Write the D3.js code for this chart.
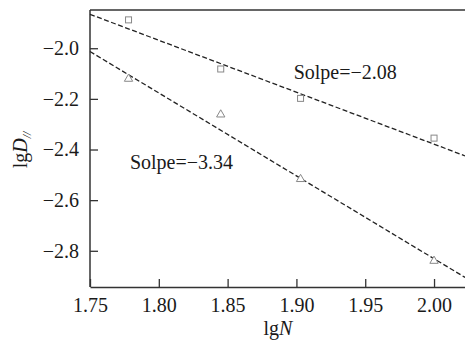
<!DOCTYPE html>
<html>
<head>
<meta charset="utf-8">
<script src="https://cdn.jsdelivr.net/npm/d3@7"></script>
<style>
  html, body { margin: 0; padding: 0; background: #fff; }
  svg { display: block; }
</style>
</head>
<body>
<svg id="chart" width="465" height="341"></svg>
<script>
// lgN values of the measured points
const lgN = [1.778, 1.845, 1.903, 2.000];
// lgD// for the two data sets
const squareSeries   = [-1.888, -2.082, -2.198, -2.355];
const triangleSeries = [-2.121, -2.262, -2.517, -2.840];
// dashed fit lines, read at the left and right edge of the plot
const fitUpper = [[1.75, -1.866], [2.0225, -2.425]];
const fitLower = [[1.75, -2.013], [2.0225, -2.905]];
const xTicks = [1.75, 1.80, 1.85, 1.90, 1.95, 2.00];
const yTicks = [-2.0, -2.2, -2.4, -2.6, -2.8];
const notes = [
  { text: 'Solpe=\u22122.08', x: 1.898, y: -2.12 },
  { text: 'Solpe=\u22123.34', x: 1.779, y: -2.475 }
];

const FONT = '"Liberation Serif", "Times New Roman", serif';
const svg = d3.select('#chart');
const M = { left: 90, top: 10, right: 0, bottom: 54 };
const W = 465, H = 341;

const x = d3.scaleLinear().domain([1.75, 2.0225]).range([M.left, W - M.right]);
const y = d3.scaleLinear().domain([-1.849, -2.943]).range([M.top, H - M.bottom]);

const minus = s => s.replace('-', '\u2212');

// top frame line
svg.append('line')
  .attr('x1', M.left).attr('x2', W)
  .attr('y1', M.top).attr('y2', M.top)
  .attr('stroke', '#333').attr('stroke-width', 1.5);

const xAxis = svg.append('g')
  .attr('transform', 'translate(0,' + (H - M.bottom) + ')')
  .call(d3.axisBottom(x).tickValues(xTicks).tickFormat(d3.format('.2f'))
    .tickSizeInner(-8).tickSizeOuter(0).tickPadding(11));

const yAxis = svg.append('g')
  .attr('transform', 'translate(' + M.left + ',0)')
  .call(d3.axisLeft(y).tickValues(yTicks).tickFormat(d => minus(d3.format('.1f')(d)))
    .tickSizeInner(-8).tickSizeOuter(0).tickPadding(11));

[xAxis, yAxis].forEach(function (g) {
  g.attr('font-family', null).attr('font-size', null);
  g.select('.domain').attr('stroke', '#333').attr('stroke-width', 1.5);
  g.selectAll('.tick line').attr('stroke', '#333').attr('stroke-width', 1.3);
  g.selectAll('.tick text').attr('fill', '#1a1a1a')
    .style('font-family', FONT).style('font-size', '20px');
});
yAxis.select('.domain').attr('d', 'M0,' + M.top + 'V' + (H - M.bottom));

// fit lines
const line = d3.line().x(d => x(d[0])).y(d => y(d[1]));
[fitUpper, fitLower].forEach(function (f) {
  svg.append('path')
    .datum(f)
    .attr('d', line)
    .attr('fill', 'none')
    .attr('stroke', '#222')
    .attr('stroke-width', 1.3)
    .attr('stroke-dasharray', '5,2.5');
});

// square markers
svg.selectAll('rect.pt')
  .data(lgN.map((n, i) => [n, squareSeries[i]]))
  .enter().append('rect')
  .attr('class', 'pt')
  .attr('x', d => x(d[0]) - 3).attr('y', d => y(d[1]) - 3)
  .attr('width', 6).attr('height', 6)
  .attr('fill', '#fff').attr('stroke', '#888').attr('stroke-width', 1);

// triangle markers
const tri = d3.symbol().type(d3.symbolTriangle).size(30);
svg.selectAll('path.tri')
  .data(lgN.map((n, i) => [n, triangleSeries[i]]))
  .enter().append('path')
  .attr('class', 'tri')
  .attr('d', tri)
  .attr('transform', d => 'translate(' + x(d[0]) + ',' + y(d[1]) + ')')
  .attr('fill', '#fff').attr('stroke', '#888').attr('stroke-width', 1);

// annotations
svg.selectAll('text.note')
  .data(notes)
  .enter().append('text')
  .attr('class', 'note')
  .attr('x', d => x(d.x)).attr('y', d => y(d.y))
  .attr('fill', '#1a1a1a')
  .style('font-family', FONT).style('font-size', '20px')
  .text(d => d.text);

// axis titles
const xt = svg.append('text')
  .attr('x', 278).attr('y', 335)
  .attr('text-anchor', 'middle')
  .attr('fill', '#1a1a1a')
  .style('font-family', FONT).style('font-size', '20px');
xt.append('tspan').text('lg');
xt.append('tspan').style('font-style', 'italic').text('N');

const yt = svg.append('text')
  .attr('transform', 'translate(27,150) rotate(-90)')
  .attr('text-anchor', 'middle')
  .attr('fill', '#1a1a1a')
  .style('font-family', FONT).style('font-size', '20px');
yt.append('tspan').text('lg');
yt.append('tspan').style('font-style', 'italic').text('D');
yt.append('tspan').style('font-style', 'italic').style('font-size', '12px').attr('dy', 4).text('//');
</script>
</body>
</html>
